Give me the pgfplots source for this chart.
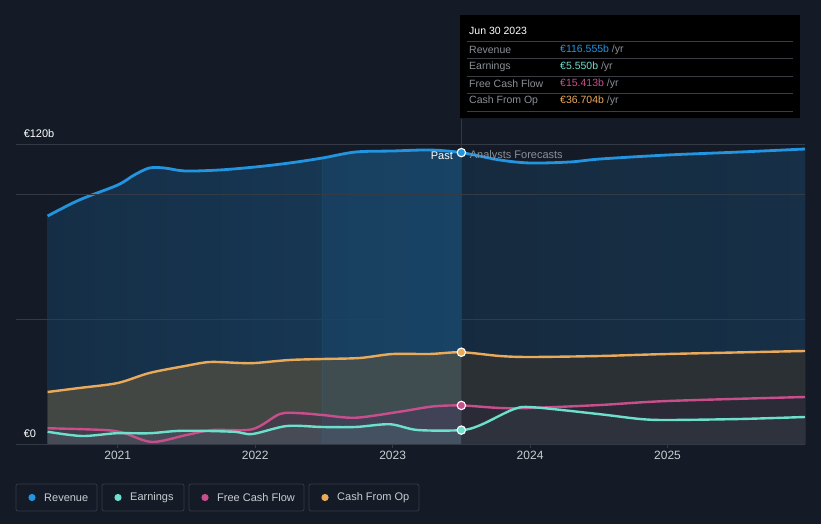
\documentclass[border=0pt]{standalone}
\usepackage{pgfplots}
\pgfplotsset{compat=1.18}
\usepackage{fontspec}
\setmainfont{Liberation Sans}

\definecolor{bg}{HTML}{151B26}
\definecolor{gridc}{HTML}{343B47}
\definecolor{revC}{HTML}{2394DF}
\definecolor{ernC}{HTML}{6CE0CC}
\definecolor{fcfC}{HTML}{C94F8C}
\definecolor{cfoC}{HTML}{EAAA5A}
\definecolor{revL}{HTML}{152E46}
\definecolor{revR}{HTML}{1A4669}
\definecolor{cfoF}{HTML}{424744}
\definecolor{fcfF}{HTML}{433C49}
\definecolor{ernF}{HTML}{474B55}
\definecolor{txt}{HTML}{C9CDD2}
\definecolor{dim}{HTML}{8A9097}
\definecolor{vline}{HTML}{2A3A4B}
\definecolor{sep}{HTML}{3A3E44}

%% values in EUR billion
\pgfplotstableread{
x y
2020.49 91.2
2020.72 97.6
2021.00 103.6
2021.12 107.6
2021.23 110.4
2021.34 110.4
2021.49 109.2
2021.74 109.6
2022.00 110.8
2022.25 112.4
2022.49 114.4
2022.73 116.8
2023.00 117.2
2023.27 117.6
2023.50 116.555
2023.78 113.6
2024.00 112.4
2024.29 112.8
2024.51 114.0
2025.00 115.6
2025.53 116.8
2026.00 118.0
}\revenue

\pgfplotstableread{
x y
2020.49 20.8
2020.72 22.4
2021.00 24.4
2021.23 28.4
2021.49 31.2
2021.67 32.8
2021.89 32.4
2022.00 32.4
2022.25 33.6
2022.49 34.0
2022.76 34.4
2023.00 36.0
2023.27 36.0
2023.50 36.704
2023.78 35.2
2024.00 34.8
2024.51 35.2
2025.00 36.0
2026.00 37.2
}\cfo

\pgfplotstableread{
x y
2020.49 6.3
2020.90 5.6
2021.04 4.5
2021.25 0.8
2021.50 3.6
2021.69 5.6
2021.98 5.9
2022.18 12.0
2022.33 12.3
2022.49 11.6
2022.73 10.5
2023.05 12.9
2023.29 15.0
2023.50 15.413
2023.78 14.4
2024.00 14.4
2024.51 15.6
2025.00 17.2
2026.00 18.8
}\fcf

\pgfplotstableread{
x y
2020.49 4.9
2020.74 3.2
2020.99 4.3
2021.23 4.3
2021.47 5.3
2021.84 4.9
2021.98 4.0
2022.23 7.2
2022.49 6.8
2022.73 6.8
2022.98 7.9
2023.18 5.6
2023.50 5.55
2023.64 7.6
2023.88 13.9
2024.02 14.7
2024.51 11.9
2024.80 10.0
2025.00 9.6
2025.53 10.0
2026.00 10.8
}\earnings

\begin{document}
\begin{tikzpicture}[x=1pt,y=1pt]
  \fill[bg] (0,0) rectangle (821,524);
  \useasboundingbox (0,0) rectangle (821,524);

  \begin{axis}[
      at={(16pt,80pt)}, anchor=south west,
      scale only axis, width=789pt, height=300pt,
      xmin=2020.26, xmax=2026, ymin=0, ymax=120,
      axis line style={draw=none},
      axis on top,
      ytick={0,50,100,120}, yticklabels={},
      ytick style={draw=none},
      ymajorgrids,
      major grid style={color=gridc, line width=0.8pt},
      xtick={2021,2022,2023,2024,2025},
      xtick pos=bottom, tick align=outside,
      major tick length=4pt,
      xtick style={color=gridc, line width=0.8pt},
      xticklabel style={/pgf/number format/1000 sep={},
        /pgf/number format/assume math mode=true,
        font=\fontsize{12}{14}\selectfont, color=txt},
      clip=false,
    ]

    %% --- areas ---
    \addplot[draw=none, left color=revL, right color=revR, smooth] table {\revenue} \closedcycle;
    \addplot[draw=none, fill=cfoF, smooth] table {\cfo} \closedcycle;
    \addplot[draw=none, fill=fcfF, smooth] table {\fcf} \closedcycle;
    \addplot[draw=none, fill=ernF, smooth] table {\earnings} \closedcycle;

    %% last twelve months highlight
    \addplot[draw=none, fill=revC, fill opacity=0.09, smooth] coordinates {
      (2022.49,114.4) (2022.73,116.8) (2023.00,117.2) (2023.27,117.6) (2023.50,116.555)
    } \closedcycle;
    \draw[revC, opacity=0.12, line width=0.8pt] (axis cs:2022.49,0) -- (axis cs:2022.49,114.4);

    %% forecast region is darker
    \fill[bg, opacity=0.5] (axis cs:2023.5,0) rectangle (axis cs:2026,120);
    \draw[vline, line width=0.8pt] (axis cs:2023.5,0) -- (axis cs:2023.5,130);

    %% --- lines ---
    \addplot[cfoC, line width=2.4pt, smooth] table {\cfo};
    \addplot[fcfC, line width=2.4pt, smooth] table {\fcf};
    \addplot[ernC, line width=2.4pt, smooth] table {\earnings};
    \addplot[revC, line width=2.8pt, smooth] table {\revenue};

    %% --- markers at Jun 30 2023 ---
    \addplot[only marks, mark=*, mark size=4.2pt, mark options={fill=revC, draw=white, line width=1.1pt}] coordinates {(2023.5,116.555)};
    \addplot[only marks, mark=*, mark size=4.2pt, mark options={fill=cfoC, draw=white, line width=1.1pt}] coordinates {(2023.5,36.704)};
    \addplot[only marks, mark=*, mark size=4.2pt, mark options={fill=fcfC, draw=white, line width=1.1pt}] coordinates {(2023.5,15.413)};
    \addplot[only marks, mark=*, mark size=4.2pt, mark options={fill=ernC, draw=white, line width=1.1pt}] coordinates {(2023.5,5.55)};

    %% --- labels ---
    \node[anchor=south west, inner sep=0pt, font=\fontsize{11}{13}\selectfont, white]
      at (axis cs:2020.315,122.6) {€120b};
    \node[anchor=south west, inner sep=0pt, font=\fontsize{11}{13}\selectfont, white]
      at (axis cs:2020.315,2.6) {€0};
    \node[anchor=east, inner sep=0pt, font=\fontsize{11}{13}\selectfont, white]
      at (axis cs:2023.44,115.2) {Past};
    \node[anchor=west, inner sep=0pt, font=\fontsize{11}{13}\selectfont, dim]
      at (axis cs:2023.56,115.2) {Analysts Forecasts};
  \end{axis}

  %% --- tooltip ---
  \fill[black] (460,406) rectangle (800,509);
  \foreach \yy in {483,466,448,431,413} {
    \draw[sep, line width=0.7pt] (467,\yy) -- (793,\yy);
  }
  \begin{scope}[every node/.style={anchor=west, inner sep=0pt, font=\fontsize{10.5}{12}\selectfont}]
    \node[white] at (469,493) {Jun 30 2023};
    \node[dim] at (469,474.5) {Revenue};
    \node[dim] at (469,457.5) {Earnings};
    \node[dim] at (469,440) {Free Cash Flow};
    \node[dim] at (469,423) {Cash From Op};
    \node at (560,474.5) {\textcolor{revC}{€116.555b} \textcolor{dim}{/yr}};
    \node at (560,457.5) {\textcolor{ernC}{€5.550b} \textcolor{dim}{/yr}};
    \node at (560,440) {\textcolor{fcfC}{€15.413b} \textcolor{dim}{/yr}};
    \node at (560,423) {\textcolor{cfoC}{€36.704b} \textcolor{dim}{/yr}};
  \end{scope}

  %% --- legend ---
  \begin{scope}[every node/.style={anchor=west, inner sep=0pt, font=\fontsize{11}{13}\selectfont, txt}]
    \draw[gridc, line width=0.8pt, rounded corners=2pt] (16,13) rectangle (97,40);
    \fill[revC] (32,26.5) circle (3.6);
    \node at (44,26.5) {Revenue};
    \draw[gridc, line width=0.8pt, rounded corners=2pt] (102,13) rectangle (184,40);
    \fill[ernC] (118,26.5) circle (3.6);
    \node at (130,26.5) {Earnings};
    \draw[gridc, line width=0.8pt, rounded corners=2pt] (189,13) rectangle (304,40);
    \fill[fcfC] (205,26.5) circle (3.6);
    \node at (217,26.5) {Free Cash Flow};
    \draw[gridc, line width=0.8pt, rounded corners=2pt] (309,13) rectangle (419,40);
    \fill[cfoC] (325,26.5) circle (3.6);
    \node at (337,26.5) {Cash From Op};
  \end{scope}
\end{tikzpicture}
\end{document}
